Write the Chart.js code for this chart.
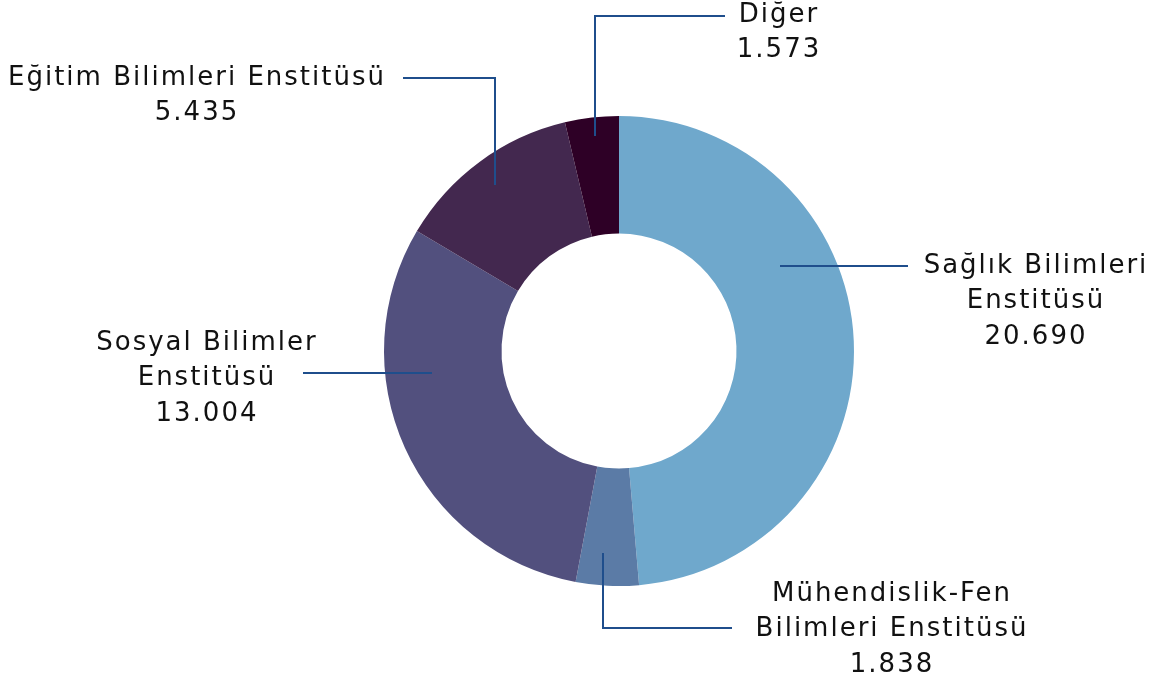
<!DOCTYPE html>
<html>
<head>
<meta charset="utf-8">
<script src="https://cdn.jsdelivr.net/npm/chart.js@4/dist/chart.umd.min.js"></script>
<style>
html,body{margin:0;padding:0;background:#fff;}
#wrap{width:1157px;height:686px;position:relative;}
</style>
</head>
<body>
<div id="wrap"><canvas id="c" width="1157" height="686"></canvas></div>
<script>
const categories = [
  ["Sağlık Bilimleri", "Enstitüsü"],
  ["Mühendislik-Fen", "Bilimleri Enstitüsü"],
  ["Sosyal Bilimler", "Enstitüsü"],
  ["Eğitim Bilimleri Enstitüsü"],
  ["Diğer"]
];
const values = [20690, 1838, 13004, 5435, 1573];
const valueLabels = ["20.690", "1.838", "13.004", "5.435", "1.573"];
const colors = ["#6FA8CC", "#5B7BA6", "#52507E", "#43284F", "#2E0026"];

// label layout: leader line path (offsets from chart centre) and text centre
const labelLayout = [
  { path: [[161, -85], [289, -85]], text: [417, -85] },
  { path: [[-16, 202], [-16, 277], [113, 277]], text: [273, 243] },
  { path: [[-187, 22], [-316, 22]], text: [-412, -8] },
  { path: [[-124, -166], [-124, -273], [-216, -273]], text: [-422, -273] },
  { path: [[-24, -215], [-24, -335], [106, -335]], text: [160, -336] }
];

const leaderPlugin = {
  id: 'leaders',
  afterDraw(chart) {
    const ctx = chart.ctx;
    const meta = chart.getDatasetMeta(0);
    const arc = meta.data[0];
    const cx = arc.x, cy = arc.y;
    ctx.save();
    ctx.strokeStyle = '#1F4E8C';
    ctx.lineWidth = 2;
    labelLayout.forEach((l, i) => {
      ctx.beginPath();
      l.path.forEach((p, j) => {
        const x = Math.round(cx + p[0]), y = Math.round(cy + p[1]);
        if (j === 0) ctx.moveTo(x, y); else ctx.lineTo(x, y);
      });
      ctx.stroke();
      const lines = categories[i].concat([valueLabels[i]]);
      ctx.fillStyle = '#111111';
      ctx.font = '26px "DejaVu Sans", sans-serif';
      if ('letterSpacing' in ctx) ctx.letterSpacing = '2px';
      ctx.textAlign = 'center';
      ctx.textBaseline = 'middle';
      const lh = 35.5;
      const tx = cx + l.text[0];
      const ty0 = cy + l.text[1];
      lines.forEach((s, k) => {
        ctx.fillText(s, tx, ty0 + k * lh);
      });
    });
    ctx.restore();
  }
};

new Chart(document.getElementById('c'), {
  type: 'doughnut',
  data: {
    labels: categories.map(c => c.join(' ')),
    datasets: [{
      data: values,
      backgroundColor: colors,
      borderWidth: 0
    }]
  },
  options: {
    responsive: false,
    animation: false,
    cutout: '50%',
    layout: { padding: { top: 116, bottom: 100, left: 384, right: 303 } },
    plugins: { legend: { display: false }, tooltip: { enabled: false } }
  },
  plugins: [leaderPlugin]
});
</script>
</body>
</html>
